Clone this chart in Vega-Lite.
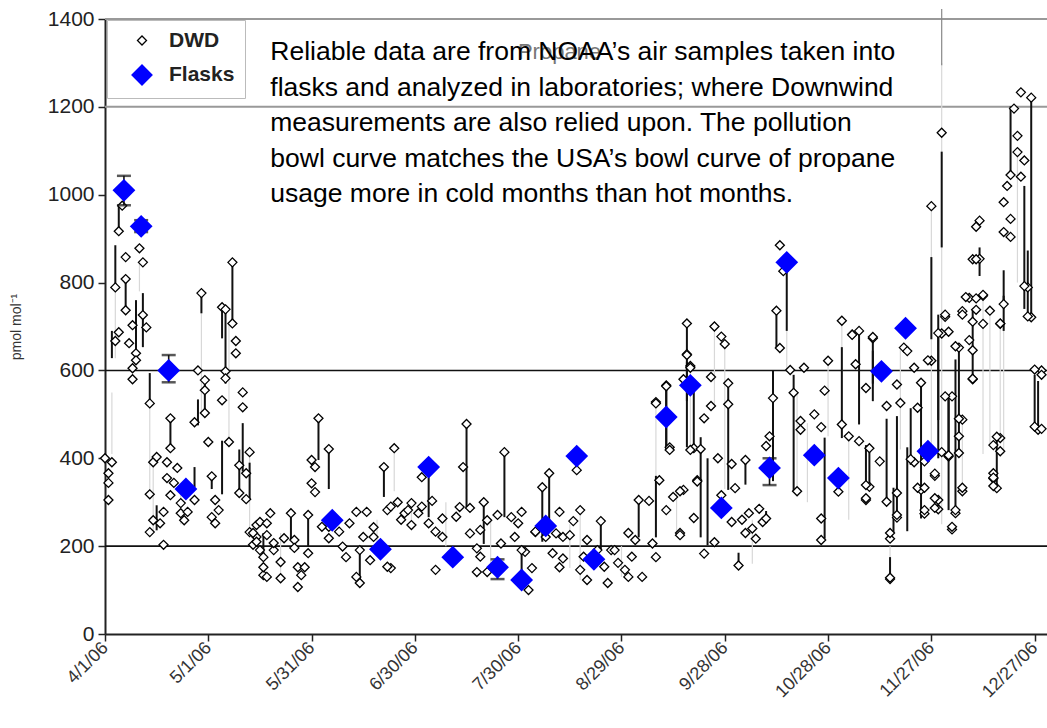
{
 "$schema": "https://vega.github.io/schema/vega-lite/v6.json",
 "width": 942,
 "height": 615,
 "autosize": "none",
 "padding": {"left": 105, "top": 19, "right": 0, "bottom": 94},
 "background": "white",
 "config": {"view": {"stroke": null}, "font": "Liberation Sans"},
 "datasets": {
  "dwd": [
   {"d":"2006-04-05","v":917},{"d":"2006-04-06","v":975},{"d":"2006-04-07","v":858},{"d":"2006-04-04","v":789},{"d":"2006-04-07","v":808},{"d":"2006-04-07","v":737},{"d":"2006-04-05","v":687},{"d":"2006-04-04","v":667},{"d":"2006-04-09","v":703},{"d":"2006-04-08","v":662},{"d":"2006-04-10","v":639},{"d":"2006-04-09","v":605},{"d":"2006-04-09","v":580},{"d":"2006-04-11","v":878},{"d":"2006-04-12","v":846},{"d":"2006-04-12","v":726},{"d":"2006-04-13","v":698},{"d":"2006-04-10","v":623},{"d":"2006-04-01","v":400},{"d":"2006-04-03","v":391},{"d":"2006-04-02","v":366},{"d":"2006-04-02","v":344},{"d":"2006-04-02","v":305},{"d":"2006-04-14","v":525},{"d":"2006-04-15","v":391},{"d":"2006-04-16","v":403},{"d":"2006-04-14","v":318},{"d":"2006-04-15","v":259},{"d":"2006-04-14","v":232},{"d":"2006-04-17","v":252},{"d":"2006-04-18","v":203},{"d":"2006-04-18","v":278},{"d":"2006-04-20","v":491},{"d":"2006-04-20","v":423},{"d":"2006-04-19","v":391},{"d":"2006-04-19","v":355},{"d":"2006-04-22","v":378},{"d":"2006-04-21","v":344},{"d":"2006-04-20","v":316},{"d":"2006-04-23","v":298},{"d":"2006-04-23","v":275},{"d":"2006-04-24","v":259},{"d":"2006-04-27","v":305},{"d":"2006-04-25","v":278},{"d":"2006-04-29","v":776},{"d":"2006-04-28","v":600},{"d":"2006-04-30","v":578},{"d":"2006-04-30","v":555},{"d":"2006-04-27","v":482},{"d":"2006-04-30","v":503},{"d":"2006-05-01","v":437},{"d":"2006-05-02","v":359},{"d":"2006-05-03","v":305},{"d":"2006-05-04","v":282},{"d":"2006-05-02","v":266},{"d":"2006-05-03","v":252},{"d":"2006-05-05","v":744},{"d":"2006-05-06","v":739},{"d":"2006-05-08","v":846},{"d":"2006-05-08","v":707},{"d":"2006-05-09","v":667},{"d":"2006-05-09","v":639},{"d":"2006-05-06","v":598},{"d":"2006-05-06","v":582},{"d":"2006-05-05","v":532},{"d":"2006-05-07","v":437},{"d":"2006-05-11","v":550},{"d":"2006-05-11","v":516},{"d":"2006-05-13","v":414},{"d":"2006-05-10","v":384},{"d":"2006-05-12","v":366},{"d":"2006-05-10","v":321},{"d":"2006-05-12","v":307},
   {"d":"2006-05-13","v":232},{"d":"2006-05-15","v":248},{"d":"2006-05-16","v":255},{"d":"2006-05-15","v":221},{"d":"2006-05-14","v":203},{"d":"2006-05-16","v":191},{"d":"2006-05-17","v":175},{"d":"2006-05-17","v":134},{"d":"2006-05-17","v":152},{"d":"2006-05-19","v":275},{"d":"2006-05-18","v":225},{"d":"2006-05-20","v":191},{"d":"2006-05-20","v":207},{"d":"2006-05-22","v":127},{"d":"2006-05-22","v":164},{"d":"2006-05-23","v":218},{"d":"2006-05-25","v":275},{"d":"2006-05-26","v":214},{"d":"2006-05-26","v":196},{"d":"2006-05-27","v":107},{"d":"2006-05-27","v":152},{"d":"2006-05-29","v":152},{"d":"2006-05-28","v":134},{"d":"2006-05-30","v":184},{"d":"2006-05-30","v":271},{"d":"2006-05-14","v":230},{"d":"2006-05-15","v":210},{"d":"2006-05-18","v":252},{"d":"2006-05-18","v":130},
   {"d":"2006-06-02","v":491},{"d":"2006-06-05","v":421},{"d":"2006-05-31","v":396},{"d":"2006-06-01","v":380},{"d":"2006-05-31","v":343},{"d":"2006-06-01","v":323},{"d":"2006-06-05","v":218},{"d":"2006-06-10","v":175},{"d":"2006-06-13","v":278},{"d":"2006-06-16","v":278},{"d":"2006-06-18","v":243},{"d":"2006-06-14","v":191},{"d":"2006-06-17","v":168},{"d":"2006-06-14","v":116},{"d":"2006-06-21","v":380},{"d":"2006-06-24","v":423},{"d":"2006-06-23","v":150},{"d":"2006-06-22","v":282},{"d":"2006-06-05","v":244},{"d":"2006-06-08","v":233},{"d":"2006-06-09","v":199},{"d":"2006-06-11","v":252},{"d":"2006-06-13","v":130},{"d":"2006-06-15","v":221},{"d":"2006-06-18","v":221},{"d":"2006-06-22","v":153},{"d":"2006-06-23","v":290},{"d":"2006-06-03","v":244},{"d":"2006-06-26","v":260},{"d":"2006-06-25","v":300},
   {"d":"2006-07-15","v":478},{"d":"2006-07-14","v":380},{"d":"2006-07-13","v":289},{"d":"2006-07-16","v":287},{"d":"2006-06-29","v":298},{"d":"2006-06-27","v":275},{"d":"2006-07-01","v":275},{"d":"2006-07-05","v":303},{"d":"2006-07-02","v":357},{"d":"2006-07-06","v":146},{"d":"2006-07-20","v":300},{"d":"2006-07-18","v":141},{"d":"2006-07-21","v":141},{"d":"2006-07-19","v":237},{"d":"2006-07-26","v":414},{"d":"2006-07-28","v":266},{"d":"2006-07-31","v":278},{"d":"2006-08-03","v":150},{"d":"2006-08-02","v":100},{"d":"2006-08-01","v":187},{"d":"2006-08-06","v":334},{"d":"2006-08-08","v":366},{"d":"2006-08-04","v":232},{"d":"2006-08-11","v":278},{"d":"2006-08-15","v":257},{"d":"2006-08-17","v":282},{"d":"2006-08-16","v":373},{"d":"2006-08-11","v":152},{"d":"2006-08-17","v":146},{"d":"2006-08-19","v":123},{"d":"2006-08-23","v":257},{"d":"2006-08-19","v":214},{"d":"2006-08-26","v":191},{"d":"2006-08-25","v":116},{"d":"2006-08-28","v":162},{"d":"2006-08-31","v":230},{"d":"2006-09-03","v":305},{"d":"2006-09-06","v":303},{"d":"2006-09-04","v":130},{"d":"2006-09-08","v":175},{"d":"2006-09-08","v":528},{"d":"2006-09-11","v":566},{"d":"2006-09-12","v":425},{"d":"2006-09-09","v":350},{"d":"2006-09-11","v":282},{"d":"2006-09-13","v":312},{"d":"2006-09-15","v":230},{"d":"2006-09-17","v":637},{"d":"2006-09-18","v":610},{"d":"2006-09-19","v":423},{"d":"2006-09-19","v":264},{"d":"2006-09-16","v":328},{"d":"2006-09-20","v":350},
   {"d":"2006-06-28","v":282},{"d":"2006-06-29","v":248},{"d":"2006-07-02","v":290},{"d":"2006-07-04","v":252},{"d":"2006-07-06","v":233},{"d":"2006-07-08","v":263},{"d":"2006-07-08","v":221},{"d":"2006-07-12","v":267},{"d":"2006-07-16","v":229},{"d":"2006-07-18","v":195},{"d":"2006-07-19","v":176},{"d":"2006-07-21","v":259},{"d":"2006-07-24","v":271},{"d":"2006-07-25","v":206},{"d":"2006-07-29","v":221},{"d":"2006-07-30","v":252},{"d":"2006-07-31","v":191},{"d":"2006-08-04","v":233},{"d":"2006-08-07","v":221},{"d":"2006-08-09","v":184},{"d":"2006-08-10","v":229},{"d":"2006-08-12","v":221},{"d":"2006-08-14","v":225},{"d":"2006-08-12","v":172},{"d":"2006-08-18","v":176},{"d":"2006-08-22","v":191},{"d":"2006-08-24","v":153},{"d":"2006-08-27","v":191},{"d":"2006-08-30","v":146},{"d":"2006-09-01","v":176},{"d":"2006-09-02","v":214},{"d":"2006-08-31","v":130},{"d":"2006-09-07","v":206},
   {"d":"2006-09-17","v":707},{"d":"2006-09-17","v":635},{"d":"2006-09-18","v":606},{"d":"2006-09-16","v":580},{"d":"2006-09-11","v":564},{"d":"2006-09-08","v":525},{"d":"2006-09-12","v":419},{"d":"2006-09-25","v":700},{"d":"2006-09-27","v":677},{"d":"2006-09-28","v":660},{"d":"2006-09-24","v":585},{"d":"2006-09-24","v":519},{"d":"2006-09-22","v":491},{"d":"2006-09-29","v":571},{"d":"2006-09-29","v":523},{"d":"2006-09-18","v":419},{"d":"2006-09-21","v":421},{"d":"2006-09-20","v":347},{"d":"2006-09-15","v":325},{"d":"2006-09-15","v":225},{"d":"2006-09-22","v":183},{"d":"2006-09-25","v":209},{"d":"2006-09-26","v":400},{"d":"2006-09-27","v":316},{"d":"2006-09-30","v":387},{"d":"2006-10-01","v":332},{"d":"2006-09-30","v":255},{"d":"2006-10-04","v":396},{"d":"2006-10-02","v":156},{"d":"2006-10-07","v":217},{"d":"2006-10-09","v":255},{"d":"2006-10-10","v":263},{"d":"2006-10-11","v":450},{"d":"2006-10-10","v":428},{"d":"2006-10-12","v":537},{"d":"2006-10-13","v":736},{"d":"2006-10-14","v":651},{"d":"2006-10-15","v":826},{"d":"2006-10-14","v":885},{"d":"2006-10-17","v":601},{"d":"2006-10-18","v":549},{"d":"2006-10-19","v":325},{"d":"2006-10-21","v":606},{"d":"2006-10-20","v":485},{"d":"2006-10-20","v":465},{"d":"2006-10-24","v":500},{"d":"2006-10-26","v":471},{"d":"2006-10-28","v":622},{"d":"2006-10-27","v":554},{"d":"2006-10-26","v":263},{"d":"2006-10-26","v":214},{"d":"2006-10-31","v":324},{"d":"2006-10-03","v":260},{"d":"2006-10-05","v":275},{"d":"2006-10-06","v":240},{"d":"2006-10-08","v":285},{"d":"2006-10-04","v":230},
   {"d":"2006-11-01","v":713},{"d":"2006-11-04","v":682},{"d":"2006-11-06","v":690},{"d":"2006-11-05","v":614},{"d":"2006-11-01","v":477},{"d":"2006-11-03","v":450},{"d":"2006-11-06","v":439},{"d":"2006-11-09","v":423},{"d":"2006-11-10","v":673},{"d":"2006-11-08","v":560},{"d":"2006-11-12","v":393},{"d":"2006-11-09","v":335},{"d":"2006-11-08","v":305},{"d":"2006-11-14","v":301},{"d":"2006-11-17","v":321},{"d":"2006-11-17","v":265},{"d":"2006-11-15","v":217},{"d":"2006-11-15","v":125},{"d":"2006-11-14","v":519},{"d":"2006-11-18","v":526},{"d":"2006-11-17","v":568},{"d":"2006-11-19","v":652},{"d":"2006-11-20","v":644},{"d":"2006-11-22","v":606},{"d":"2006-11-23","v":515},{"d":"2006-11-24","v":572},{"d":"2006-11-22","v":391},{"d":"2006-11-24","v":328},{"d":"2006-11-25","v":274},{"d":"2006-11-29","v":305},{"d":"2006-11-29","v":284},{"d":"2006-11-28","v":360},{"d":"2006-11-27","v":622},{"d":"2006-12-01","v":722},{"d":"2006-12-02","v":688},{"d":"2006-11-30","v":684},{"d":"2006-12-03","v":541},{"d":"2006-12-02","v":404},{"d":"2006-12-05","v":412},{"d":"2006-12-06","v":325},{"d":"2006-12-03","v":238},{"d":"2006-12-04","v":275},{"d":"2006-12-05","v":450},{"d":"2006-12-06","v":488},{"d":"2006-12-05","v":652},{"d":"2006-12-06","v":735},{"d":"2006-12-08","v":765},{"d":"2006-12-08","v":669},{"d":"2006-12-10","v":738},{"d":"2006-12-09","v":580},{"d":"2006-12-12","v":770},{"d":"2006-12-12","v":706},{"d":"2006-12-14","v":736},{"d":"2006-12-18","v":751},{"d":"2006-12-17","v":706},{"d":"2006-12-15","v":354},{"d":"2006-12-16","v":332},{"d":"2006-12-15","v":366},{"d":"2006-12-17","v":416},{"d":"2006-12-17","v":446},{"d":"2006-12-11","v":854},{"d":"2006-12-25","v":789},{"d":"2006-12-26","v":721},{"d":"2006-12-28","v":465},{"d":"2006-12-29","v":600},
   {"d":"2006-11-30","v":1141},{"d":"2006-11-27","v":974},{"d":"2006-12-23","v":1233},{"d":"2006-12-26","v":1221},{"d":"2006-12-21","v":1196},{"d":"2006-12-22","v":1134},{"d":"2006-12-22","v":1097},{"d":"2006-12-24","v":1078},{"d":"2006-12-23","v":1041},{"d":"2006-12-20","v":1045},{"d":"2006-12-19","v":1020},{"d":"2006-12-18","v":983},{"d":"2006-12-20","v":945},{"d":"2006-12-18","v":915},{"d":"2006-12-20","v":904},{"d":"2006-12-24","v":792},{"d":"2006-12-25","v":723},{"d":"2006-12-11","v":941},{"d":"2006-12-10","v":927},{"d":"2006-12-09","v":853},{"d":"2006-12-10","v":853},{"d":"2006-12-12","v":772},{"d":"2006-12-17","v":707},{"d":"2006-12-07","v":767},{"d":"2006-12-10","v":764},{"d":"2006-12-06","v":727},{"d":"2006-12-09","v":711},{"d":"2006-12-04","v":655},{"d":"2006-12-09","v":646},{"d":"2006-12-09","v":581},{"d":"2006-12-27","v":602},{"d":"2006-12-29","v":590},{"d":"2006-12-27","v":472},{"d":"2006-12-29","v":467},{"d":"2006-12-16","v":449},{"d":"2006-12-15","v":430},{"d":"2006-12-15","v":356},{"d":"2006-12-15","v":337},{"d":"2006-12-01","v":541},{"d":"2006-12-02","v":407},{"d":"2006-12-03","v":244},{"d":"2006-12-04","v":282},{"d":"2006-12-05","v":490},{"d":"2006-12-06","v":333},{"d":"2006-11-30","v":414},{"d":"2006-11-28","v":287},{"d":"2006-11-28","v":309},{"d":"2006-11-26","v":623},{"d":"2006-11-28","v":365},{"d":"2006-11-25","v":282},{"d":"2006-12-01","v":727},{"d":"2006-11-29","v":685},{"d":"2006-11-15","v":128},{"d":"2006-11-15","v":230},{"d":"2006-11-17","v":271},{"d":"2006-11-21","v":398},{"d":"2006-11-23","v":333},{"d":"2006-11-25","v":333},{"d":"2006-11-25","v":393},{"d":"2006-11-08","v":339},{"d":"2006-11-08","v":309},{"d":"2006-11-10","v":676},{"d":"2006-11-04","v":681}
  ],
  "dark": [
   {"d":"2006-04-05","lo":917,"hi":976},{"d":"2006-04-04","lo":790,"hi":885},{"d":"2006-04-03","lo":628,"hi":690},{"d":"2006-04-07","lo":737,"hi":808},{"d":"2006-04-10","lo":616,"hi":760},{"d":"2006-04-12","lo":653,"hi":776},{"d":"2006-04-14","lo":525,"hi":594},{"d":"2006-04-16","lo":236,"hi":293},{"d":"2006-04-20","lo":423,"hi":491},{"d":"2006-04-27","lo":334,"hi":380},{"d":"2006-04-29","lo":730,"hi":776},{"d":"2006-04-28","lo":475,"hi":534},{"d":"2006-04-30","lo":510,"hi":578},{"d":"2006-05-02","lo":330,"hi":359},{"d":"2006-05-05","lo":318,"hi":440},{"d":"2006-05-05","lo":673,"hi":744},{"d":"2006-05-06","lo":570,"hi":739},{"d":"2006-05-08","lo":707,"hi":846},{"d":"2006-05-10","lo":318,"hi":420},{"d":"2006-05-11","lo":370,"hi":480},{"d":"2006-05-13","lo":307,"hi":390},{"d":"2006-05-17","lo":168,"hi":230},{"d":"2006-05-25","lo":214,"hi":275},{"d":"2006-05-30","lo":198,"hi":275},{"d":"2006-06-02","lo":396,"hi":491},{"d":"2006-06-05","lo":330,"hi":421},{"d":"2006-06-21","lo":312,"hi":380},{"d":"2006-06-14","lo":116,"hi":184},{"d":"2006-07-15","lo":289,"hi":478},{"d":"2006-07-26","lo":266,"hi":414},{"d":"2006-07-04","lo":266,"hi":357},{"d":"2006-08-06","lo":210,"hi":334},{"d":"2006-08-08","lo":245,"hi":366},{"d":"2006-07-20","lo":205,"hi":300},{"d":"2006-07-31","lo":130,"hi":191},{"d":"2006-08-23","lo":191,"hi":257},{"d":"2006-09-03","lo":220,"hi":305},{"d":"2006-09-11","lo":419,"hi":566},{"d":"2006-09-17","lo":530,"hi":637},{"d":"2006-09-08","lo":220,"hi":360},{"d":"2006-09-17","lo":640,"hi":707},{"d":"2006-09-17","lo":425,"hi":620},{"d":"2006-09-19","lo":425,"hi":555},{"d":"2006-09-11","lo":425,"hi":564},{"d":"2006-09-21","lo":220,"hi":448},{"d":"2006-09-23","lo":202,"hi":400},{"d":"2006-09-29","lo":328,"hi":571},{"d":"2006-10-04","lo":340,"hi":396},{"d":"2006-10-02","lo":156,"hi":185},{"d":"2006-10-10","lo":255,"hi":280},{"d":"2006-10-12","lo":348,"hi":600},{"d":"2006-10-13","lo":651,"hi":736},{"d":"2006-10-16","lo":690,"hi":828},{"d":"2006-10-18","lo":324,"hi":590},{"d":"2006-10-27","lo":217,"hi":447},{"d":"2006-11-01","lo":446,"hi":653},{"d":"2006-11-06","lo":477,"hi":690},{"d":"2006-11-09","lo":335,"hi":423},{"d":"2006-11-10","lo":530,"hi":645},{"d":"2006-11-14","lo":310,"hi":490},{"d":"2006-11-17","lo":263,"hi":496},{"d":"2006-11-21","lo":385,"hi":514},{"d":"2006-11-24","lo":263,"hi":569},{"d":"2006-11-27","lo":671,"hi":858},{"d":"2006-11-29","lo":400,"hi":690},{"d":"2006-12-02","lo":400,"hi":541},{"d":"2006-12-05","lo":416,"hi":655},{"d":"2006-12-09","lo":585,"hi":737},{"d":"2006-12-18","lo":753,"hi":828},{"d":"2006-12-25","lo":721,"hi":873},{"d":"2006-12-26","lo":723,"hi":1221},{"d":"2006-12-28","lo":468,"hi":576},{"d":"2006-11-30","lo":880,"hi":1098},{"d":"2006-12-20","lo":1053,"hi":1201},{"d":"2006-12-24","lo":740,"hi":1020},{"d":"2006-12-18","lo":690,"hi":770},{"d":"2006-12-11","lo":815,"hi":880},{"d":"2006-11-29","lo":487,"hi":727},{"d":"2006-12-02","lo":282,"hi":541},{"d":"2006-12-04","lo":282,"hi":625},{"d":"2006-12-16","lo":337,"hi":449},{"d":"2006-12-27","lo":472,"hi":590},{"d":"2006-11-20","lo":234,"hi":425},{"d":"2006-11-16","lo":230,"hi":333},{"d":"2006-11-15","lo":128,"hi":175},{"d":"2006-11-08","lo":339,"hi":430},{"d":"2006-11-10","lo":570,"hi":670}
  ],
  "light": [
   {"d":"2006-04-04","lo":628,"hi":790},{"d":"2006-04-03","lo":410,"hi":550},{"d":"2006-04-11","lo":780,"hi":846},{"d":"2006-04-14","lo":320,"hi":518},{"d":"2006-04-15","lo":232,"hi":391},{"d":"2006-04-29","lo":500,"hi":730},{"d":"2006-05-07","lo":437,"hi":707},{"d":"2006-05-13","lo":232,"hi":414},{"d":"2006-06-24","lo":325,"hi":423},{"d":"2006-06-29","lo":250,"hi":300},{"d":"2006-08-17","lo":123,"hi":282},{"d":"2006-09-08","lo":350,"hi":528},{"d":"2006-09-18","lo":420,"hi":610},{"d":"2006-09-25","lo":515,"hi":700},{"d":"2006-09-28","lo":330,"hi":660},{"d":"2006-10-16","lo":600,"hi":690},{"d":"2006-10-19","lo":325,"hi":549},{"d":"2006-10-28","lo":450,"hi":622},{"d":"2006-11-01","lo":450,"hi":713},{"d":"2006-11-10","lo":560,"hi":673},{"d":"2006-11-15","lo":125,"hi":200},{"d":"2006-11-18","lo":420,"hi":652},{"d":"2006-11-27","lo":416,"hi":974},{"d":"2006-11-30","lo":250,"hi":1300},{"d":"2006-12-06","lo":325,"hi":488},{"d":"2006-12-12","lo":410,"hi":770},{"d":"2006-12-18","lo":410,"hi":751},{"d":"2006-12-17","lo":440,"hi":707},{"d":"2006-11-14","lo":305,"hi":400},{"d":"2006-04-23","lo":250,"hi":330},{"d":"2006-05-22","lo":130,"hi":230},{"d":"2006-06-19","lo":190,"hi":260},{"d":"2006-07-09","lo":200,"hi":300},{"d":"2006-07-22","lo":150,"hi":260},{"d":"2006-08-14","lo":150,"hi":250},{"d":"2006-08-29","lo":130,"hi":200},{"d":"2006-09-14","lo":230,"hi":330},{"d":"2006-10-06","lo":160,"hi":260},{"d":"2006-10-22","lo":300,"hi":480},{"d":"2006-11-03","lo":260,"hi":450},{"d":"2006-12-14","lo":430,"hi":736},{"d":"2006-12-22","lo":800,"hi":1100}
  ],
  "mid": [{"d":"2006-11-30","lo":1295,"hi":1423}],
  "flask": [
   {"d":"2006-04-06T12:00Z","v":1010},{"d":"2006-04-11T12:00Z","v":928},{"d":"2006-04-19T12:00Z","v":600},{"d":"2006-04-24T12:00Z","v":330},{"d":"2006-06-06","v":259},{"d":"2006-06-20","v":193},{"d":"2006-07-04","v":380},{"d":"2006-07-11","v":175},{"d":"2006-07-24","v":152},{"d":"2006-07-31","v":123},{"d":"2006-08-07","v":246},{"d":"2006-08-16","v":405},{"d":"2006-08-21","v":170},{"d":"2006-09-11","v":494},{"d":"2006-09-18","v":566},{"d":"2006-09-27","v":287},{"d":"2006-10-11","v":378},{"d":"2006-10-16","v":846},{"d":"2006-10-24","v":407},{"d":"2006-10-31","v":355},{"d":"2006-11-12T12:00Z","v":598},{"d":"2006-11-19T12:00Z","v":696},{"d":"2006-11-26","v":416}
  ],
  "ferr": [
   {"d":"2006-04-06T12:00Z","lo":976,"hi":1043},{"d":"2006-04-11T12:00Z","lo":915,"hi":942},{"d":"2006-04-19T12:00Z","lo":573,"hi":635},{"d":"2006-07-24","lo":125,"hi":170},{"d":"2006-10-11","lo":339,"hi":400}
  ],
  "heading": [
   {"d":"2006-08-11","v":1326,"t":"Propane"}
  ],
  "note": [
   {"d":"2006-05-19","v":1306,"t":["Reliable data are from NOAA\u2019s air samples taken into","flasks and analyzed in laboratories; where Downwind","measurements are also relied upon. The pollution","bowl curve matches the USA\u2019s bowl curve of propane","usage more in cold months than hot months."]}
  ]
 },
 "layer": [
  {
   "data": {"values": [{"g": 200}, {"g": 600}]},
   "mark": {"type": "rule", "color": "#111", "strokeWidth": 1.6},
   "encoding": {
    "y": {"field": "g", "type": "quantitative", "title": "pmol mol\u207b\u00b9", "scale": {"domain": [0, 1400], "nice": false, "zero": true},
     "axis": {"values": [0, 200, 400, 600, 800, 1000, 1200, 1400], "format": "d", "grid": false, "domain": true, "domainColor": "#222", "domainWidth": 2, "ticks": true, "tickColor": "#222", "tickSize": 7, "tickWidth": 1.5, "labelFontSize": 21, "labelColor": "#222", "labelPadding": 4, "labelFont": "Liberation Sans", "titleFontSize": 14, "titleFontWeight": "normal", "titleColor": "#333", "titleFont": "Liberation Sans", "titlePadding": 24}}
   }
  },
  {
   "data": {"values": [{"g": 1200}, {"g": 1400}]},
   "mark": {"type": "rule", "color": "#999", "strokeWidth": 2},
   "encoding": {"y": {"field": "g", "type": "quantitative", "title": "pmol mol\u207b\u00b9"}}
  },
  {
   "data": {"name": "light"},
   "mark": {"type": "rule", "color": "#d8d8d8", "strokeWidth": 1.2},
   "encoding": {
    "x": {"field": "d", "type": "temporal", "title": null,
     "scale": {"type": "utc", "domain": [{"year": 2006, "month": 4, "date": 1, "utc": true}, {"year": 2006, "month": 12, "date": 30, "hours": 14, "utc": true}]},
     "axis": {"values": [{"year": 2006, "month": 4, "date": 1, "utc": true}, {"year": 2006, "month": 5, "date": 1, "utc": true}, {"year": 2006, "month": 5, "date": 31, "utc": true}, {"year": 2006, "month": 6, "date": 30, "utc": true}, {"year": 2006, "month": 7, "date": 30, "utc": true}, {"year": 2006, "month": 8, "date": 29, "utc": true}, {"year": 2006, "month": 9, "date": 28, "utc": true}, {"year": 2006, "month": 10, "date": 28, "utc": true}, {"year": 2006, "month": 11, "date": 27, "utc": true}, {"year": 2006, "month": 12, "date": 27, "utc": true}],
      "labelExpr": "utcFormat(datum.value, '%-m/%-d/%y')", "labelAngle": -45, "labelAlign": "right", "labelBaseline": "middle", "labelFontSize": 18, "labelColor": "#333", "labelFont": "Liberation Sans", "labelPadding": 4, "labelOverlap": false, "labelBound": false, "labelFlush": false, "grid": false, "domainColor": "#222", "domainWidth": 2, "tickColor": "#222", "tickSize": 7, "tickWidth": 1.5, "title": null}},
    "y": {"field": "lo", "type": "quantitative", "title": "pmol mol\u207b\u00b9"},
    "y2": {"field": "hi"}
   }
  },
  {
   "data": {"name": "mid"},
   "mark": {"type": "rule", "color": "#888", "strokeWidth": 1.2},
   "encoding": {"x": {"field": "d", "type": "temporal", "title": null}, "y": {"field": "lo", "type": "quantitative", "title": "pmol mol\u207b\u00b9"}, "y2": {"field": "hi"}}
  },
  {
   "data": {"name": "dark"},
   "mark": {"type": "rule", "color": "#111", "strokeWidth": 2},
   "encoding": {"x": {"field": "d", "type": "temporal", "title": null}, "y": {"field": "lo", "type": "quantitative", "title": "pmol mol\u207b\u00b9"}, "y2": {"field": "hi"}}
  },
  {
   "data": {"name": "dwd"},
   "mark": {"type": "point", "shape": "diamond", "filled": false, "strokeWidth": 1.3, "opacity": 1},
   "encoding": {
    "x": {"field": "d", "type": "temporal", "title": null},
    "y": {"field": "v", "type": "quantitative", "title": "pmol mol\u207b\u00b9"},
    "fill": {"datum": "DWD", "type": "nominal", "scale": {"domain": ["DWD", "Flasks"], "range": ["white", "#0000ff"]},
     "legend": {"title": null, "orient": "none", "legendX": 2, "legendY": 1, "direction": "vertical", "fillColor": "white", "strokeColor": "#bbb", "padding": 10, "symbolType": "diamond", "symbolOffset": 14, "labelFontSize": 21, "labelFontWeight": "bold", "labelColor": "#222", "labelFont": "Liberation Sans", "labelOffset": 16, "rowPadding": 11, "symbolStrokeWidth": 1.3}},
    "stroke": {"datum": "DWD", "type": "nominal", "scale": {"domain": ["DWD", "Flasks"], "range": ["black", "#0000ff"]}},
    "size": {"datum": "DWD", "type": "nominal", "scale": {"domain": ["DWD", "Flasks"], "range": [81, 400]}}
   }
  },
  {
   "data": {"name": "ferr"},
   "mark": {"type": "errorbar", "ticks": {"color": "#111", "size": 14, "thickness": 2.5}, "color": "#111", "thickness": 1.6},
   "encoding": {"x": {"field": "d", "type": "temporal", "title": null}, "y": {"field": "lo", "type": "quantitative", "title": "pmol mol\u207b\u00b9"}, "y2": {"field": "hi"}}
  },
  {
   "data": {"name": "flask"},
   "mark": {"type": "point", "shape": "diamond", "filled": true, "opacity": 1},
   "encoding": {
    "x": {"field": "d", "type": "temporal", "title": null},
    "y": {"field": "v", "type": "quantitative", "title": "pmol mol\u207b\u00b9"},
    "fill": {"datum": "Flasks", "type": "nominal"},
    "stroke": {"datum": "Flasks", "type": "nominal"},
    "size": {"datum": "Flasks", "type": "nominal"}
   }
  },
  {
   "data": {"name": "heading"},
   "mark": {"type": "text", "align": "center", "baseline": "middle", "fontSize": 22, "font": "Liberation Sans", "color": "#777"},
   "encoding": {"x": {"field": "d", "type": "temporal", "title": null}, "y": {"field": "v", "type": "quantitative", "title": "pmol mol\u207b\u00b9"}, "text": {"field": "t"}}
  },
  {
   "data": {"name": "note"},
   "mark": {"type": "text", "align": "left", "baseline": "alphabetic", "fontSize": 26.5, "lineHeight": 35.5, "font": "Liberation Sans", "color": "black"},
   "encoding": {"x": {"field": "d", "type": "temporal", "title": null}, "y": {"field": "v", "type": "quantitative", "title": "pmol mol\u207b\u00b9"}, "text": {"field": "t"}}
  }
 ]
}
